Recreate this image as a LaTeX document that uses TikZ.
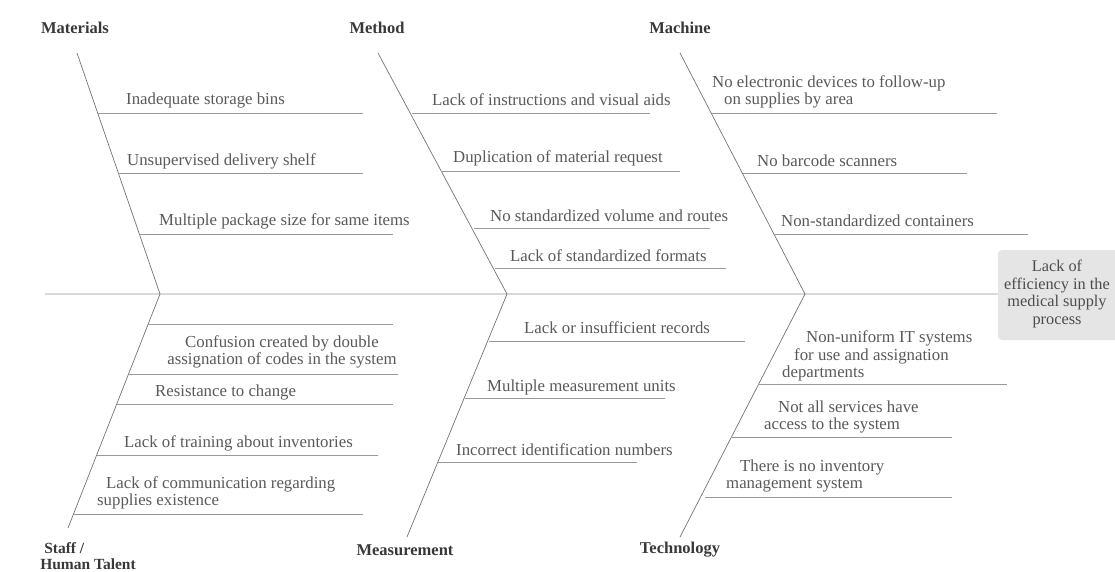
\documentclass[tikz,border=0pt]{standalone}
\usepackage{fontspec}
\setmainfont{Liberation Serif}
\begin{document}
\begin{tikzpicture}[x=1pt,y=-1pt,
  bone/.style={draw=black!55, line width=0.7pt},
  rib/.style={draw=black!40, line width=0.7pt},
  spine/.style={draw=black!15, line width=1.4pt},
  cause/.style={text=black!65, font=\fontsize{16.8}{17.5}\selectfont, inner sep=0pt, anchor=west, align=left},
  cat/.style={text=black!78, font=\bfseries\fontsize{16.5}{16}\selectfont, inner sep=0pt}]
\useasboundingbox (0,0) rectangle (1115,572);

% effect box
\fill[black!10, rounded corners=4pt] (998,250) rectangle (1125,340);
\node[text=black!70, font=\fontsize{16.3}{17.7}\selectfont, align=center, inner sep=0pt] (effect) at (1057,294)
  {Lack of\\efficiency in the\\medical supply\\process};

% spine
\coordinate (tail) at (45,294);
\coordinate (head) at (998,294);
\draw[spine] (tail) -- (head);

% joints on the spine
\coordinate (j1) at (160,294);
\coordinate (j2) at (507,294);
\coordinate (j3) at (805,294);

% bone ends
\coordinate (mat) at (77,53);
\coordinate (met) at (378,53);
\coordinate (mac) at (680,53);
\coordinate (sta) at (68,528);
\coordinate (mea) at (407,537);
\coordinate (tec) at (680,537);

\draw[bone] (mat) -- (j1) -- (sta);
\draw[bone] (met) -- (j2) -- (mea);
\draw[bone] (mac) -- (j3) -- (tec);

% category labels
\node[cat] (lmat) at (75,28) {Materials};
\node[cat] (lmet) at (377,28) {Method};
\node[cat] (lmac) at (680,28) {Machine};
\node[cat, align=left, font=\bfseries\fontsize{15.5}{15.5}\selectfont] (lsta) at (88,556) {\hspace*{4pt}Staff /\\Human Talent};
\node[cat] (lmea) at (405,550) {Measurement};
\node[cat] (ltec) at (680,550) {Technology};

% Materials
\coordinate (a1) at (97,113);  \coordinate (a1e) at (363,113);
\coordinate (a2) at (118,173); \coordinate (a2e) at (363,173);
\coordinate (a3) at (139,234); \coordinate (a3e) at (393,234);
\draw[rib] (a1) -- (a1e); \draw[rib] (a2) -- (a2e); \draw[rib] (a3) -- (a3e);
\node[cause] (ta1) at (126,100) {Inadequate storage bins};
\node[cause] (ta2) at (127,161) {Unsupervised delivery shelf};
\node[cause] (ta3) at (159,221) {Multiple package size for same items};

% Method
\coordinate (b1) at (412,113); \coordinate (b1e) at (650,113);
\coordinate (b2) at (441,171); \coordinate (b2e) at (680,171);
\coordinate (b3) at (474,228); \coordinate (b3e) at (710,228);
\coordinate (b4) at (495,268); \coordinate (b4e) at (726,268);
\draw[rib] (b1) -- (b1e); \draw[rib] (b2) -- (b2e); \draw[rib] (b3) -- (b3e); \draw[rib] (b4) -- (b4e);
\node[cause] (tb1) at (432,100) {Lack of instructions and visual aids};
\node[cause] (tb2) at (453,158) {Duplication of material request};
\node[cause] (tb3) at (490,216) {No standardized volume and routes};
\node[cause] (tb4) at (510,256) {Lack of standardized formats};

% Machine
\coordinate (c1) at (712,113); \coordinate (c1e) at (997,113);
\coordinate (c2) at (743,173); \coordinate (c2e) at (967,173);
\coordinate (c3) at (774,234); \coordinate (c3e) at (1028,234);
\draw[rib] (c1) -- (c1e); \draw[rib] (c2) -- (c2e); \draw[rib] (c3) -- (c3e);
\node[cause] (tc1) at (712,92) {No electronic devices to follow-up\\\hspace*{12pt}on supplies by area};
\node[cause] (tc2) at (757,161) {No barcode scanners};
\node[cause] (tc3) at (781,221) {Non-standardized containers};

% Staff / Human Talent
\coordinate (d0) at (148,324); \coordinate (d0e) at (393,324);
\coordinate (d1) at (129,374); \coordinate (d1e) at (398,374);
\coordinate (d2) at (117,404); \coordinate (d2e) at (393,404);
\coordinate (d3) at (97,455);  \coordinate (d3e) at (378,455);
\coordinate (d4) at (74,514);  \coordinate (d4e) at (363,514);
\draw[rib] (d0) -- (d0e); \draw[rib] (d1) -- (d1e); \draw[rib] (d2) -- (d2e);
\draw[rib] (d3) -- (d3e); \draw[rib] (d4) -- (d4e);
\node[cause, align=center, anchor=center] (td1) at (282,352) {Confusion created by double\\assignation of codes in the system};
\node[cause] (td2) at (155,392) {Resistance to change};
\node[cause] (td3) at (124,443) {Lack of training about inventories};
\node[cause] (td4) at (97,493) {\hspace*{9pt}Lack of communication regarding\\supplies existence};

% Measurement
\coordinate (e1) at (489,341); \coordinate (e1e) at (745,341);
\coordinate (e2) at (465,398); \coordinate (e2e) at (665,398);
\coordinate (e3) at (438,462); \coordinate (e3e) at (637,462);
\draw[rib] (e1) -- (e1e); \draw[rib] (e2) -- (e2e); \draw[rib] (e3) -- (e3e);
\node[cause] (te1) at (524,328) {Lack or insufficient records};
\node[cause] (te2) at (487,387) {Multiple measurement units};
\node[cause] (te3) at (456,450) {Incorrect identification numbers};

% Technology
\coordinate (f1) at (758,384); \coordinate (f1e) at (1007,384);
\coordinate (f2) at (732,437); \coordinate (f2e) at (952,437);
\coordinate (f3) at (705,497); \coordinate (f3e) at (952,497);
\draw[rib] (f1) -- (f1e); \draw[rib] (f2) -- (f2e); \draw[rib] (f3) -- (f3e);
\node[cause] (tf1) at (782,356) {\hspace*{24pt}Non-uniform IT systems\\\hspace*{12pt}for use and assignation\\departments};
\node[cause] (tf2) at (764,417) {\hspace*{14pt}Not all services have\\access to the system};
\node[cause] (tf3) at (726,476) {\hspace*{14pt}There is no inventory\\management system};
\end{tikzpicture}
\end{document}
